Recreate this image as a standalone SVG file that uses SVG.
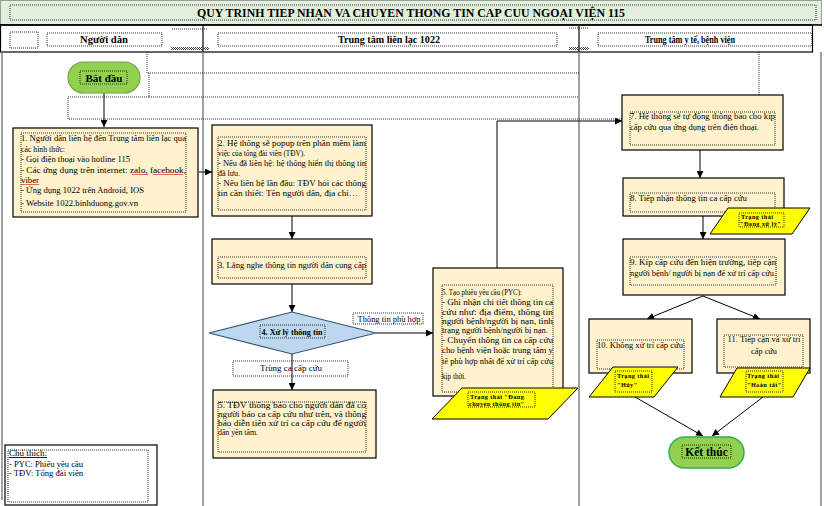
<svg xmlns="http://www.w3.org/2000/svg" width="824" height="506" viewBox="0 0 824 506">
<defs>
<marker id="arr" viewBox="0 0 10 10" refX="10" refY="5" markerWidth="7" markerHeight="7" markerUnits="userSpaceOnUse" orient="auto"><path d="M0,0 L10,5 L0,10 z" fill="#000"/></marker>
<pattern id="hatch" width="2" height="2" patternUnits="userSpaceOnUse"><rect width="1" height="1" fill="#444"/><rect x="1" y="1" width="1" height="1" fill="#444"/></pattern>
<style>
.box{fill:#fff2cc;stroke:#000;stroke-width:1.2}
.dot{fill:none;stroke:#000;stroke-width:0.8;stroke-dasharray:1 1}
.dotw{fill:#fff;stroke:#000;stroke-width:0.8;stroke-dasharray:1 1}
.t{font-family:"Liberation Serif",serif;font-size:9px;fill:#000}
.hd{font-family:"Liberation Serif",serif;font-size:10px;font-weight:bold;fill:#000}
.b{font-family:"Liberation Serif",serif;font-weight:bold;fill:#000}
.st{font-family:"Liberation Serif",serif;font-size:6.3px;font-weight:bold;fill:#000;letter-spacing:0.4px}
.para{fill:#ffff00;stroke:#000;stroke-width:1}
.conn{fill:none;stroke:#000;stroke-width:1;marker-end:url(#arr)}
.lane{stroke:#808080;stroke-width:1.5;fill:none}
.sq{fill:none;stroke:#e00;stroke-width:0.6}
</style>
</defs>

<!-- title -->
<g id="title">
<rect x="0.5" y="0.5" width="821" height="24" fill="#e2efda" stroke="#9a9a9a"/>
<rect x="10" y="5" width="806" height="15" class="dot"/>
<text x="411" y="17" text-anchor="middle" class="b" font-size="12.5" textLength="428" lengthAdjust="spacingAndGlyphs">QUY TRINH TIEP NHẠN VA CHUYEN THONG TIN CAP CUU NGOẠI VIỆN 115</text>
</g>

<!-- header / lanes -->
<g id="lanes">
<rect x="0.5" y="25" width="812" height="27" fill="none" stroke="#000" stroke-width="1.2"/>
<line x1="0" y1="25" x2="822" y2="25" stroke="#000" stroke-width="1.5"/>
<line x1="203" y1="26" x2="203" y2="52" stroke="#000" stroke-width="1.2"/>
<line x1="579" y1="26" x2="579" y2="52" stroke="#000" stroke-width="1.2"/>
<line x1="203" y1="52" x2="203" y2="506" class="lane"/>
<line x1="579" y1="52" x2="579" y2="506" class="lane"/>
<line x1="2" y1="52" x2="2" y2="500" class="lane"/>
<line x1="821" y1="52" x2="821" y2="506" class="lane"/>
<rect x="10" y="32" width="28" height="16" class="dot"/>
<line x1="172" y1="29" x2="208" y2="29" class="dot"/>
<rect x="171" y="47" width="38" height="3" fill="url(#hatch)"/>
<line x1="569" y1="28" x2="589" y2="28" class="dot"/>
<rect x="569" y="47" width="20" height="3" fill="url(#hatch)"/>
</g>
<g id="lane-people"><rect x="47" y="33" width="115" height="13" class="dot"/><text x="104" y="43" text-anchor="middle" class="hd" textLength="48" lengthAdjust="spacingAndGlyphs">Người dân</text></g>
<g id="lane-center"><rect x="218" y="33" width="339" height="13" class="dot"/><text x="389" y="43" text-anchor="middle" class="hd" textLength="102" lengthAdjust="spacingAndGlyphs">Trung tâm liên lạc 1022</text></g>
<g id="lane-hospital"><rect x="598" y="33" width="214" height="13" class="dot"/><text x="690" y="43" text-anchor="middle" class="hd" textLength="90" lengthAdjust="spacingAndGlyphs">Trung tâm y tế, bệnh viện</text></g>

<!-- stray dotted frames -->
<g id="frames">
<path d="M147,52 V73 H579" class="dot"/>
<path d="M149,73 V97 H579" class="dot"/>
<path d="M759,52 V95" class="dot"/>
<path d="M622,119 H68 V97 H149" class="dot"/>
</g>

<!-- connectors -->
<g id="connectors">
<path d="M104,93 V127" class="conn"/>
<path d="M199,172 H212" class="conn"/>
<path d="M292,216 V239" class="conn"/>
<path d="M292,284 V312" class="conn"/>
<path d="M376,333 H433" class="conn"/>
<path d="M497,268 V121 H622" class="conn" stroke="#555"/>
<path d="M700,150 V178" class="conn"/>
<path d="M703,216 V239" class="conn"/>
<path d="M703,296 L647,319" class="conn"/>
<path d="M703,296 L760,319" class="conn"/>
<path d="M635,397 L703,436" class="conn"/>
<path d="M763,397 L712,436" class="conn"/>
</g>

<g id="start">
<rect x="68" y="62" width="72" height="31" rx="15.5" fill="#92d050" stroke="#72a444" stroke-width="1.2"/>
<rect x="80" y="71" width="47" height="13" class="dot"/>
<text x="104" y="82" text-anchor="middle" class="b" font-size="11">Bắt đầu</text>
</g>

<g id="n1">
<rect x="13" y="128" width="185" height="89" class="box"/>
<rect x="21" y="133" width="165" height="79" class="dot"/>
<text class="t"><tspan x="21" y="141" textLength="165" lengthAdjust="spacingAndGlyphs">1. Người dân liên hệ đến Trung tâm liên lạc qua</tspan><tspan x="21" y="152" textLength="44" lengthAdjust="spacingAndGlyphs">các hình thức:</tspan><tspan x="21" y="162" textLength="109" lengthAdjust="spacingAndGlyphs">- Gọi điện thoại vào hotline 115</tspan><tspan x="21" y="173" textLength="165" lengthAdjust="spacingAndGlyphs">- Các ứng dụng trên internet: zalo, facebook,</tspan><tspan x="21" y="183" textLength="18" lengthAdjust="spacingAndGlyphs">viber</tspan><tspan x="21" y="193" textLength="123" lengthAdjust="spacingAndGlyphs">- Ứng dụng 1022 trên Android, IOS</tspan><tspan x="21" y="206" textLength="117" lengthAdjust="spacingAndGlyphs">- Website 1022.binhduong.gov.vn</tspan></text>
<path d="M132,175 l1,-1 1,1 1,-1 1,1 1,-1 1,1 1,-1 1,1 1,-1 1,1 1,-1 1,1 1,-1 1,1 1,-1 1,1" class="sq"/>
<path d="M153,175 l1,-1 1,1 1,-1 1,1 1,-1 1,1 1,-1 1,1 1,-1 1,1 1,-1 1,1 1,-1 1,1 1,-1 1,1 1,-1 1,1 1,-1 1,1 1,-1 1,1 1,-1 1,1 1,-1 1,1 1,-1 1,1 1,-1 1,1" class="sq"/>
<path d="M21,185 l1,-1 1,1 1,-1 1,1 1,-1 1,1 1,-1 1,1 1,-1 1,1 1,-1 1,1 1,-1 1,1 1,-1 1,1 1,-1 1,1" class="sq"/>
</g>

<g id="n2">
<rect x="212" y="125" width="160" height="91" class="box"/>
<rect x="218" y="137" width="148" height="73" class="dot"/>
<text class="t"><tspan x="218" y="146" textLength="148" lengthAdjust="spacingAndGlyphs">2. Hệ thống sẽ popup trên phần mềm làm</tspan><tspan x="218" y="156" textLength="87" lengthAdjust="spacingAndGlyphs">việc của tổng đài viên (TĐV).</tspan><tspan x="218" y="166" textLength="148" lengthAdjust="spacingAndGlyphs">- Nếu đã liên hệ: hệ thống hiển thị thông tin</tspan><tspan x="218" y="176" textLength="22" lengthAdjust="spacingAndGlyphs">đã lưu.</tspan><tspan x="218" y="186" textLength="148" lengthAdjust="spacingAndGlyphs">- Nếu liên hệ lần đầu: TĐV hỏi các thông</tspan><tspan x="218" y="196" textLength="140" lengthAdjust="spacingAndGlyphs">tin cần thiết: Tên người dân, địa chỉ…</tspan></text>
</g>

<g id="n3">
<rect x="212" y="239" width="160" height="45" class="box"/>
<rect x="218" y="257" width="148" height="21" class="dot"/>
<text x="218" y="268" class="t" textLength="148" lengthAdjust="spacingAndGlyphs">3. Lắng nghe thông tin người dân cung cấp</text>
</g>

<g id="n4">
<polygon points="209,333 292,312 376,333 292,354" fill="#bdd7ee" stroke="#3b5573" stroke-width="1.2"/>
<rect x="260" y="325" width="65" height="13" class="dot"/>
<text x="292" y="334.5" text-anchor="middle" class="b" font-size="9" textLength="61" lengthAdjust="spacingAndGlyphs">4. Xử lý thông tin</text>
</g>

<g id="lbl-match">
<rect x="353" y="313" width="70" height="11" class="dotw"/>
<text x="389" y="321.5" text-anchor="middle" class="t" font-size="8.5" textLength="63" lengthAdjust="spacingAndGlyphs">Thông tin phù hợp</text>
</g>
<g id="lbl-dup">
<rect x="233" y="361" width="115" height="15" class="dotw"/>
<text x="291" y="370.5" text-anchor="middle" class="t" textLength="62" lengthAdjust="spacingAndGlyphs">Trùng ca cấp cứu</text>
<path d="M292,354 V390" class="conn"/>
</g>

<g id="n5">
<rect x="213" y="390" width="163" height="68" class="box"/>
<rect x="218" y="402" width="148" height="50" class="dot"/>
<text class="t"><tspan x="218" y="408" textLength="148" lengthAdjust="spacingAndGlyphs">5. TĐV thông báo cho người dân đã có</tspan><tspan x="218" y="417" textLength="148" lengthAdjust="spacingAndGlyphs">người báo ca cấp cứu như trên, và thông</tspan><tspan x="218" y="426" textLength="148" lengthAdjust="spacingAndGlyphs">báo diễn tiến xử trí ca cấp cứu để người</tspan><tspan x="218" y="435" textLength="40" lengthAdjust="spacingAndGlyphs">dân yên tâm.</tspan></text>
</g>

<g id="n6">
<rect x="433" y="268" width="130" height="128" class="box"/>
<rect x="442" y="285" width="111" height="107" class="dot"/>
<text class="t"><tspan x="442" y="295" textLength="80" lengthAdjust="spacingAndGlyphs">5. Tạo phiếu yêu cầu (PYC):</tspan><tspan x="442" y="305" textLength="111" lengthAdjust="spacingAndGlyphs">- Ghi nhận chi tiết thông tin ca</tspan><tspan x="442" y="315" textLength="111" lengthAdjust="spacingAndGlyphs">cứu như: địa điểm, thông tin</tspan><tspan x="442" y="324" textLength="111" lengthAdjust="spacingAndGlyphs">người bệnh/người bị nạn, tình</tspan><tspan x="442" y="333" textLength="106" lengthAdjust="spacingAndGlyphs">trạng người bệnh/người bị nạn.</tspan><tspan x="442" y="343" textLength="111" lengthAdjust="spacingAndGlyphs">- Chuyển thông tin ca cấp cứu</tspan><tspan x="442" y="353" textLength="111" lengthAdjust="spacingAndGlyphs">cho bệnh viện hoặc trung tâm y</tspan><tspan x="442" y="364" textLength="111" lengthAdjust="spacingAndGlyphs">tế phù hợp nhất để xử trí cấp cứu</tspan><tspan x="442" y="379" textLength="24" lengthAdjust="spacingAndGlyphs">kịp thời.</tspan></text>
</g>
<g id="s6">
<polygon points="462,388 578,388 548,419 432,419" class="para"/>
<rect x="468" y="392" width="67" height="15" class="dot"/>
<text class="st"><tspan x="470" y="398.5">Trạng thái "Đang</tspan><tspan x="469" y="406">chuyển thông tin"</tspan></text>
</g>

<g id="n7">
<rect x="622" y="95" width="161" height="55" class="box"/>
<rect x="630" y="112" width="145" height="33" class="dot"/>
<text class="t"><tspan x="630" y="119" textLength="145" lengthAdjust="spacingAndGlyphs">7. Hệ thống sẽ tự động thông báo cho kíp</tspan><tspan x="630" y="130" textLength="129" lengthAdjust="spacingAndGlyphs">cấp cứu qua ứng dụng trên điện thoại.</tspan></text>
</g>

<g id="n8">
<rect x="623" y="178" width="161" height="38" class="box"/>
<rect x="630" y="193" width="145" height="19" class="dot"/>
<text x="630" y="201" class="t" textLength="117" lengthAdjust="spacingAndGlyphs">8. Tiếp nhận thông tin ca cấp cứu</text>
</g>
<g id="s8">
<polygon points="728,208 810,208 792,234 710,234" class="para"/>
<rect x="739" y="213" width="45" height="14" class="dot"/>
<text class="st"><tspan x="741" y="218.5">Trạng thái</tspan><tspan x="740" y="225.5">"Đang xử lý"</tspan></text>
</g>

<g id="n9">
<rect x="623" y="239" width="162" height="56" class="box"/>
<rect x="630" y="257" width="146" height="28" class="dot"/>
<text class="t"><tspan x="630" y="265" textLength="146" lengthAdjust="spacingAndGlyphs">9. Kíp cấp cứu đến hiện trường, tiếp cận</tspan><tspan x="630" y="276" textLength="146" lengthAdjust="spacingAndGlyphs">người bệnh/ người bị nạn để xử trí cấp cứu.</tspan></text>
</g>

<g id="n10">
<rect x="589" y="319" width="103" height="54" class="box"/>
<rect x="597" y="340" width="87" height="29" class="dot"/>
<text x="597" y="348" class="t" textLength="86" lengthAdjust="spacingAndGlyphs">10. Không xử trí cấp cứu</text>
</g>
<g id="s10">
<polygon points="613,367 678,367 654,397 589,397" class="para"/>
<rect x="615" y="371" width="37" height="21" class="dot"/>
<text class="st"><tspan x="617" y="377.5">Trạng thái</tspan><tspan x="617" y="386.5">"Hủy"</tspan></text>
</g>

<g id="n11">
<rect x="717" y="319" width="93" height="54" class="box"/>
<rect x="724" y="335" width="79" height="32" class="dot"/>
<text class="t" text-anchor="middle"><tspan x="764" y="342" textLength="73" lengthAdjust="spacingAndGlyphs">11. Tiếp cận và xử trí</tspan><tspan x="764" y="354" textLength="26" lengthAdjust="spacingAndGlyphs">cấp cứu</tspan></text>
</g>
<g id="s11">
<polygon points="737,368 810,368 793,397 720,397" class="para"/>
<rect x="746" y="371" width="37" height="21" class="dot"/>
<text class="st"><tspan x="747" y="377.5">Trạng thái</tspan><tspan x="747" y="386.5">"Hoàn tất"</tspan></text>
</g>

<g id="end">
<rect x="669" y="437" width="75" height="31" rx="15.5" fill="#92d050" stroke="#2eb04f" stroke-width="1.5"/>
<rect x="682" y="445" width="49" height="13" class="dot"/>
<text x="706.5" y="456" text-anchor="middle" class="b" font-size="11.5">Kết thúc</text>
</g>

<g id="legend">
<rect x="5" y="445" width="152" height="60" fill="#fff" stroke="#000" stroke-width="1.2"/>
<rect x="8" y="450" width="140" height="52" class="dot"/>
<text class="t"><tspan x="9" y="456" text-decoration="underline" textLength="38" lengthAdjust="spacingAndGlyphs">Chú thích:</tspan><tspan x="9" y="467" textLength="74" lengthAdjust="spacingAndGlyphs">- PYC: Phiếu yêu cầu</tspan><tspan x="9" y="476" textLength="74" lengthAdjust="spacingAndGlyphs">- TĐV: Tổng đài viên</tspan></text>
</g>
</svg>
